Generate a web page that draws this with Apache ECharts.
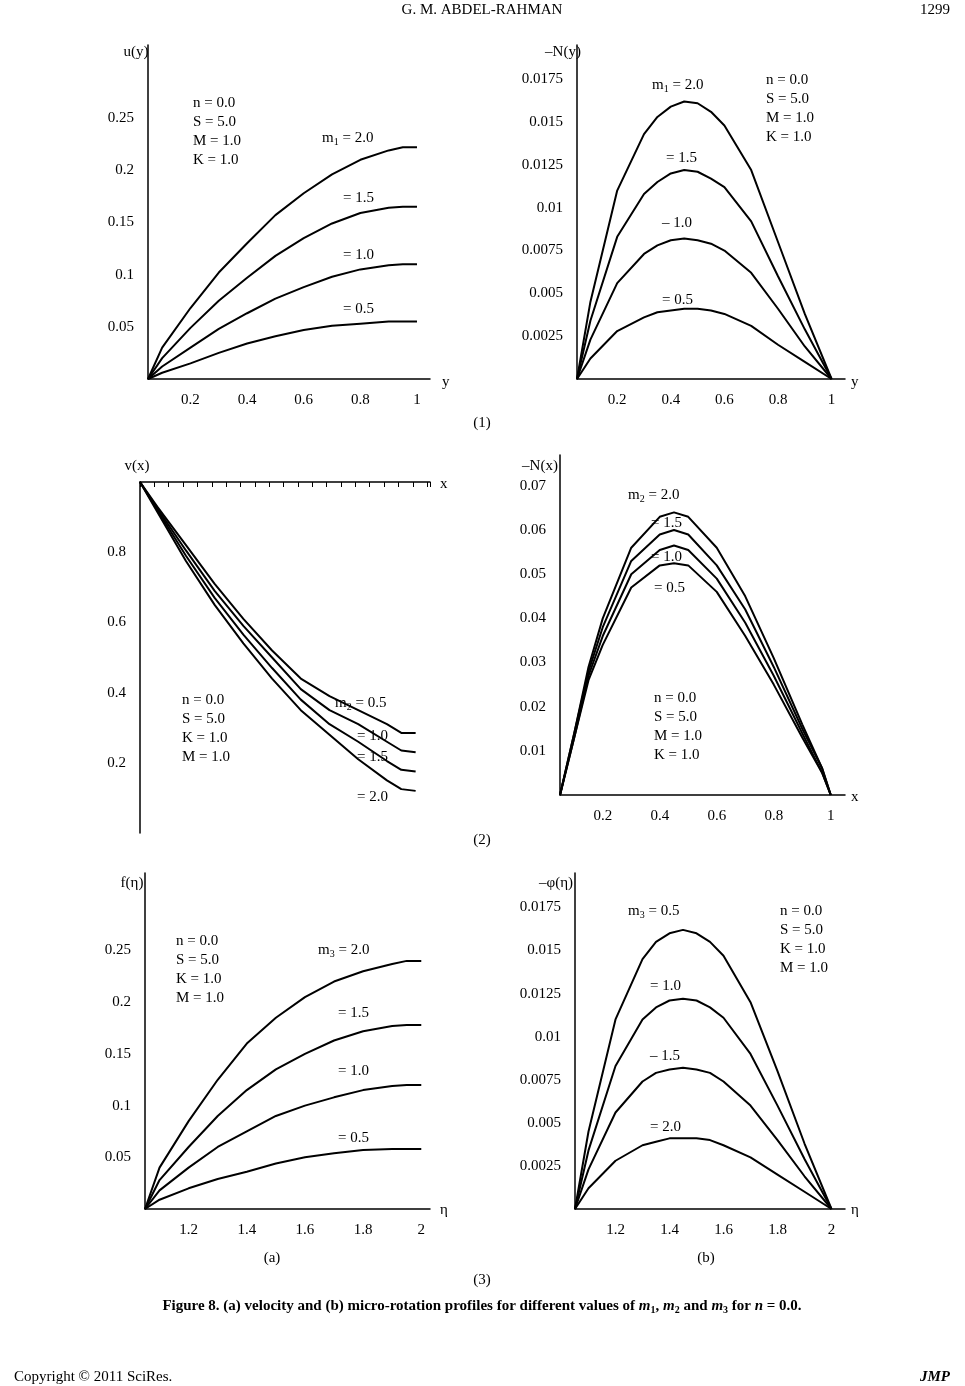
<!DOCTYPE html>
<html><head><meta charset="utf-8">
<script src="https://cdn.jsdelivr.net/npm/echarts@6/dist/echarts.min.js"></script>
<style>html,body{margin:0;background:#fff}#c{width:965px;height:1386px}</style>
</head><body><div id="c"></div>
<script>
// panel (1a) u(y)
var x1a = [0.05,0.1,0.2,0.3,0.4,0.5,0.6,0.7,0.8,0.9,0.95,1.0];
var u_m20 = [0,0.03,0.068,0.102,0.13,0.157,0.178,0.196,0.21,0.219,0.222,0.222];
var u_m15 = [0,0.02,0.049,0.075,0.097,0.118,0.135,0.149,0.159,0.164,0.165,0.165];
var u_m10 = [0,0.012,0.03,0.048,0.063,0.077,0.088,0.098,0.105,0.109,0.11,0.11];
var u_m05 = [0,0.006,0.015,0.025,0.034,0.041,0.047,0.051,0.053,0.055,0.055,0.055];
// panel (1b) -N(y)
var x1b = [0.05,0.1,0.2,0.3,0.35,0.4,0.45,0.5,0.55,0.6,0.7,0.8,0.9,1.0];
var Ny_m20 = [0,0.0045,0.011,0.0143,0.0153,0.0159,0.0162,0.0161,0.0156,0.0148,0.0122,0.008,0.0038,0];
var Ny_m15 = [0,0.0034,0.0083,0.0108,0.0115,0.012,0.0122,0.0121,0.0117,0.0112,0.0092,0.006,0.0029,0];
var Ny_m10 = [0,0.0023,0.0056,0.0073,0.0078,0.0081,0.0082,0.0081,0.0079,0.0075,0.0062,0.0041,0.0019,0];
var Ny_m05 = [0,0.0012,0.0028,0.0036,0.0039,0.004,0.0041,0.0041,0.004,0.0038,0.0031,0.002,0.001,0];
// panel (2a) v(x)
var x2a = [0.04,0.1,0.2,0.3,0.4,0.5,0.6,0.7,0.8,0.9,0.95,1.0];
var v_m05 = [1,0.93,0.82,0.71,0.61,0.52,0.44,0.39,0.35,0.31,0.285,0.285];
var v_m10 = [1,0.925,0.805,0.69,0.59,0.5,0.41,0.35,0.31,0.26,0.235,0.23];
var v_m15 = [1,0.92,0.79,0.67,0.565,0.47,0.38,0.31,0.26,0.205,0.18,0.175];
var v_m20 = [1,0.915,0.775,0.65,0.54,0.44,0.35,0.28,0.21,0.15,0.125,0.12];
// panel (2b) -N(x)
var x2b = [0.05,0.1,0.15,0.2,0.3,0.4,0.45,0.5,0.6,0.7,0.8,0.9,0.97,1.0];
var Nx_m20 = [0,0.014,0.029,0.04,0.056,0.063,0.064,0.063,0.056,0.045,0.031,0.016,0.006,0];
var Nx_m15 = [0,0.014,0.028,0.038,0.053,0.059,0.06,0.059,0.052,0.042,0.029,0.015,0.006,0];
var Nx_m10 = [0,0.013,0.027,0.036,0.05,0.0555,0.0565,0.0555,0.049,0.039,0.027,0.014,0.005,0];
var Nx_m05 = [0,0.013,0.026,0.034,0.047,0.052,0.0525,0.052,0.046,0.036,0.025,0.013,0.005,0];
// panel (3a) f(eta)
var x3a = [1.05,1.1,1.2,1.3,1.4,1.5,1.6,1.7,1.8,1.9,1.95,2.0];
var f_m20 = [0,0.04,0.085,0.125,0.16,0.185,0.205,0.22,0.23,0.237,0.24,0.24];
var f_m15 = [0,0.028,0.06,0.09,0.115,0.135,0.15,0.163,0.172,0.177,0.178,0.178];
var f_m10 = [0,0.018,0.04,0.06,0.075,0.09,0.1,0.108,0.115,0.119,0.12,0.12];
var f_m05 = [0,0.009,0.02,0.029,0.036,0.044,0.05,0.054,0.057,0.058,0.058,0.058];
// panel (3b) -phi(eta)
var x3b = [1.05,1.1,1.2,1.3,1.35,1.4,1.45,1.5,1.55,1.6,1.7,1.8,1.9,2.0];
var p_m05 = [0,0.0045,0.011,0.0145,0.0155,0.016,0.0162,0.016,0.0155,0.0147,0.012,0.008,0.0038,0];
var p_m10 = [0,0.0034,0.0083,0.011,0.0117,0.0121,0.0122,0.0121,0.0117,0.0111,0.009,0.006,0.0029,0];
var p_m15 = [0,0.0023,0.0056,0.0074,0.0079,0.0081,0.0082,0.0081,0.0079,0.0074,0.006,0.004,0.0019,0];
var p_m20 = [0,0.0012,0.0028,0.0037,0.0039,0.0041,0.0041,0.0041,0.004,0.0037,0.003,0.002,0.001,0];

var FONT = 'Liberation Serif';
var chart = echarts.init(document.getElementById('c'));

// grid boxes and axis ranges per panel
var panels = [
  {g:[148,45,282,334], x:[0.05,1.046], y:[0,0.32,0.05,0.25], xs:x1a, ys:[u_m20,u_m15,u_m10,u_m05]},
  {g:[577,45,268,334], x:[0.05,1.05], y:[0,0.0195,0.0025,0.0175], xs:x1b, ys:[Ny_m20,Ny_m15,Ny_m10,Ny_m05]},
  {g:[140,482,290,351], x:[0.04,1.05], y:[0,1.0,0.2,0.8], xs:x2a, ys:[v_m05,v_m10,v_m15,v_m20], top:true},
  {g:[560,455,285,340], x:[0.05,1.05], y:[0,0.077,0.01,0.07], xs:x2b, ys:[Nx_m20,Nx_m15,Nx_m10,Nx_m05]},
  {g:[145,873,285,336], x:[1.05,2.03], y:[0,0.325,0.05,0.25], xs:x3a, ys:[f_m20,f_m15,f_m10,f_m05]},
  {g:[575,873,270,336], x:[1.05,2.05], y:[0,0.0195,0.0025,0.0175], xs:x3b, ys:[p_m05,p_m10,p_m15,p_m20]}
];

var grids = [], xAxes = [], yAxes = [], series = [];
panels.forEach(function (p, i) {
  grids.push({left:p.g[0], top:p.g[1], width:p.g[2], height:p.g[3]});
  xAxes.push({
    type:'value', gridIndex:i, min:p.x[0], max:p.x[1], interval:0.05,
    position: p.top ? 'top' : 'bottom',
    axisLine:{onZero:false, lineStyle:{color:'#000', width:1.5}},
    axisTick:{show:!!p.top, inside:true, length:5, lineStyle:{color:'#000'}},
    splitLine:{show:false}, showMaxLabel:false,
    axisLabel:{inside:!!p.top, margin:14, color:'#000', fontFamily:FONT, fontSize:15,
      formatter:function (v) {
        var k = v * 5;
        if (Math.abs(k - Math.round(k)) > 1e-6) return '';
        return String(+v.toFixed(1));
      }}
  });
  yAxes.push({
    type:'value', gridIndex:i, min:p.y[0], max:p.y[1], interval:p.y[2],
    axisLine:{lineStyle:{color:'#000', width:1.5}},
    axisTick:{show:false}, splitLine:{show:false}, showMaxLabel:false,
    axisLabel:{margin:14, color:'#000', fontFamily:FONT, fontSize:15,
      formatter:function (v) {
        if (v <= 0 || v > p.y[3] + 1e-9) return '';
        return String(+v.toFixed(4));
      }}
  });
  p.ys.forEach(function (arr) {
    series.push({
      type:'line', xAxisIndex:i, yAxisIndex:i, symbol:'none', silent:true,
      lineStyle:{color:'#000', width:2},
      data: p.xs.map(function (x, j) { return [x, arr[j]]; })
    });
  });
});

var rich = {
  n:{fontFamily:FONT, fontSize:15, color:'#000'},
  s:{fontFamily:FONT, fontSize:10, color:'#000', padding:[8,0,0,0]},
  i:{fontFamily:FONT, fontSize:15, color:'#000', fontStyle:'italic', fontWeight:'bold'},
  b:{fontFamily:FONT, fontSize:15, color:'#000', fontWeight:'bold'},
  bs:{fontFamily:FONT, fontSize:10, color:'#000', fontWeight:'bold', padding:[8,0,0,0]}
};
function T(x, y, text, align, extra) {
  var st = {x:x, y:y, text:text, rich:rich, fontFamily:FONT, fontSize:15, fill:'#000',
    textAlign:align || 'left', textVerticalAlign:'middle', lineHeight:19};
  if (extra) for (var k in extra) st[k] = extra[k];
  return {type:'text', style:st};
}
function M(x, y, sub, val) { return T(x, y, '{n|m}{s|' + sub + '}{n| = ' + val + '}'); }
function P(x, y, lines) { return T(x, y, lines.join('\n'), 'left', {textVerticalAlign:'top'}); }

var graphics = [
  T(482, 10, 'G. M. ABDEL-RAHMAN', 'center'), T(950, 10, '1299', 'right'),
  // axis names
  T(136, 52, 'u(y)', 'center'), T(563, 52, '\u2013N(y)', 'center'),
  T(137, 466, 'v(x)', 'center'), T(540, 466, '\u2013N(x)', 'center'),
  T(132, 883, 'f(\u03b7)', 'center'), T(556, 883, '\u2013\u03c6(\u03b7)', 'center'),
  T(442, 382, 'y'), T(851, 382, 'y'), T(440, 484, 'x'), T(851, 797, 'x'),
  T(440, 1210, '\u03b7'), T(851, 1210, '\u03b7'),
  // panel 1a
  P(193, 94, ['n = 0.0','S = 5.0','M = 1.0','K = 1.0']),
  M(322, 138, '1', '2.0'), T(343, 198, '= 1.5'), T(343, 255, '= 1.0'), T(343, 309, '= 0.5'),
  // panel 1b
  P(766, 71, ['n = 0.0','S = 5.0','M = 1.0','K = 1.0']),
  M(652, 85, '1', '2.0'), T(666, 158, '= 1.5'), T(662, 223, '\u2013 1.0'), T(662, 300, '= 0.5'),
  // panel 2a
  P(182, 691, ['n = 0.0','S = 5.0','K = 1.0','M = 1.0']),
  M(335, 703, '2', '0.5'), T(357, 736, '= 1.0'), T(357, 757, '= 1.5'), T(357, 797, '= 2.0'),
  // panel 2b
  M(628, 495, '2', '2.0'), T(651, 523, '= 1.5'), T(651, 557, '= 1.0'), T(654, 588, '= 0.5'),
  P(654, 689, ['n = 0.0','S = 5.0','M = 1.0','K = 1.0']),
  // panel 3a
  P(176, 932, ['n = 0.0','S = 5.0','K = 1.0','M = 1.0']),
  M(318, 950, '3', '2.0'), T(338, 1013, '= 1.5'), T(338, 1071, '= 1.0'), T(338, 1138, '= 0.5'),
  // panel 3b
  M(628, 911, '3', '0.5'), T(650, 986, '= 1.0'), T(650, 1056, '\u2013 1.5'), T(650, 1127, '= 2.0'),
  P(780, 902, ['n = 0.0','S = 5.0','K = 1.0','M = 1.0']),
  // figure labels
  T(482, 423, '(1)', 'center'), T(482, 840, '(2)', 'center'),
  T(272, 1258, '(a)', 'center'), T(706, 1258, '(b)', 'center'), T(482, 1280, '(3)', 'center'),
  T(482, 1306, '{b|Figure 8. (a) velocity and (b) micro-rotation profiles for different values of }{i|m}{bs|1}{b|, }{i|m}{bs|2}{b| and }{i|m}{bs|3}{b| for }{i|n}{b| = 0.0.}', 'center'),
  T(14, 1377, 'Copyright \u00a9 2011 SciRes.'),
  T(950, 1377, 'JMP', 'right', {fontWeight:'bold', fontStyle:'italic'})
];

chart.setOption({
  animation:false,
  grid:grids, xAxis:xAxes, yAxis:yAxes, series:series,
  graphic:graphics
});
</script>
</body></html>
